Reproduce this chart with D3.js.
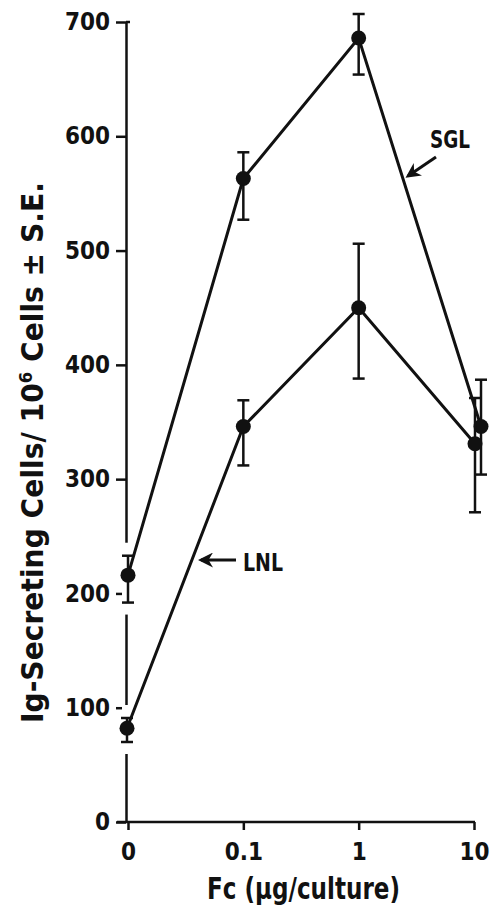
<!DOCTYPE html>
<html>
<head>
<meta charset="utf-8">
<script src="https://cdn.jsdelivr.net/npm/d3@7"></script>
<style>
  body { margin: 0; background: #fff; }
  svg text { font-family: "Liberation Sans Narrow", "DejaVu Sans Condensed", "Arial Narrow", sans-serif; font-weight: bold; fill: #111; }
</style>
</head>
<body>
<svg id="chart" width="490" height="907"></svg>
<script>
const doses = ['0', '0.1', '1', '10'];
const yTicks = [0, 100, 200, 300, 400, 500, 600, 700];

// SGL series (mean, error bar low / high)
const sglMean = [216, 563, 686, 346];
const sglLow = [192, 527, 654, 304];
const sglHigh = [233, 586, 707, 387];

// LNL series
const lnlMean = [82, 346, 450, 331];
const lnlLow = [70, 312, 388, 271];
const lnlHigh = [91, 369, 506, 371];

const svg = d3.select('#chart');

const x = d3.scalePoint().domain(doses).range([128, 474]);
const y = d3.scaleLinear().domain([0, 700]).range([822, 22]);

// the two series sit a touch apart at the last dose in the original
const dodge = { SGL: [0, 0, 0, 7], LNL: [-1, 0, 0, 1] };

const series = [
    { name: 'SGL', mean: sglMean, low: sglLow, high: sglHigh },
    { name: 'LNL', mean: lnlMean, low: lnlLow, high: lnlHigh }
].map(s => ({
    name: s.name,
    pts: doses.map((d, i) => ({
        d, i,
        cx: x(d) + dodge[s.name][i],
        v: s.mean[i], lo: s.low[i], hi: s.high[i]
    }))
}));

// axes
const yAxis = svg.append('g')
    .attr('transform', 'translate(126,0)')
    .call(d3.axisLeft(y).tickValues(yTicks).tickSize(10).tickPadding(6).tickSizeOuter(0));

const xAxis = svg.append('g')
    .attr('transform', 'translate(0,822)')
    .call(d3.axisBottom(x).tickSize(8).tickPadding(8).tickSizeOuter(0));

[yAxis, xAxis].forEach(g => {
    g.select('.domain').attr('stroke', '#111').attr('stroke-width', 2.5);
    g.selectAll('.tick line').attr('stroke', '#111').attr('stroke-width', 2.5);
    g.selectAll('.tick text').style('font-size', '24px').attr('fill', '#111');
});
xAxis.select('.domain').attr('d', 'M117,0H475');
xAxis.selectAll('.tick text').attr('dy', '0.9em');
// little hook at the top of the y axis
yAxis.append('line').attr('x1', 0).attr('x2', 4).attr('y1', y(700)).attr('y2', y(700))
    .attr('stroke', '#111').attr('stroke-width', 2.5);

// white gaps where the first points cross the y axis
series.forEach(s => {
    const p = s.pts[0];
    svg.append('line')
        .attr('x1', 126).attr('x2', 126)
        .attr('y1', y(p.hi) - 13).attr('y2', y(p.lo) + 12)
        .attr('stroke', '#fff').attr('stroke-width', 8);
});

const line = d3.line().x(d => d.cx).y(d => y(d.v));

series.forEach(s => {
    const g = svg.append('g');

    g.append('path')
        .datum(s.pts)
        .attr('d', line)
        .attr('fill', 'none')
        .attr('stroke', '#111')
        .attr('stroke-width', 3);

    const eb = g.selectAll('.eb').data(s.pts).enter().append('g');
    eb.append('line')
        .attr('x1', d => d.cx).attr('x2', d => d.cx)
        .attr('y1', d => y(d.hi)).attr('y2', d => y(d.lo))
        .attr('stroke', '#111').attr('stroke-width', 2.5);
    eb.append('line')
        .attr('x1', d => d.cx - 6).attr('x2', d => d.cx + 6)
        .attr('y1', d => y(d.hi)).attr('y2', d => y(d.hi))
        .attr('stroke', '#111').attr('stroke-width', 2.5);
    eb.append('line')
        .attr('x1', d => d.cx - 6).attr('x2', d => d.cx + 6)
        .attr('y1', d => y(d.lo)).attr('y2', d => y(d.lo))
        .attr('stroke', '#111').attr('stroke-width', 2.5);

    g.selectAll('circle').data(s.pts).enter().append('circle')
        .attr('cx', d => d.cx).attr('cy', d => y(d.v))
        .attr('r', 7.5).attr('fill', '#111');
});

// series labels with arrows
svg.append('defs').append('marker')
    .attr('id', 'head').attr('viewBox', '0 0 10 10')
    .attr('refX', 8).attr('refY', 5)
    .attr('markerWidth', 5).attr('markerHeight', 5)
    .attr('orient', 'auto')
    .append('path').attr('d', 'M0,0L10,5L0,10L3,5z').attr('fill', '#111');

svg.append('text').attr('x', 430).attr('y', 148).style('font-size', '25px')
    .attr('textLength', 40).attr('lengthAdjust', 'spacingAndGlyphs').text('SGL');
svg.append('line').attr('x1', 436).attr('y1', 157).attr('x2', 408).attr('y2', 176)
    .attr('stroke', '#111').attr('stroke-width', 3).attr('marker-end', 'url(#head)');

svg.append('text').attr('x', 243).attr('y', 571).style('font-size', '25px')
    .attr('textLength', 40).attr('lengthAdjust', 'spacingAndGlyphs').text('LNL');
svg.append('line').attr('x1', 236).attr('y1', 560).attr('x2', 201).attr('y2', 560)
    .attr('stroke', '#111').attr('stroke-width', 3).attr('marker-end', 'url(#head)');

// axis titles
svg.append('text')
    .attr('x', 207).attr('y', 899)
    .style('font-size', '30px')
    .attr('textLength', 193).attr('lengthAdjust', 'spacingAndGlyphs')
    .text('Fc (µg/culture)');

const yt = svg.append('text')
    .attr('transform', 'translate(43,723) rotate(-90)')
    .attr('textLength', 541).attr('lengthAdjust', 'spacingAndGlyphs')
    .style('font-size', '31px');
yt.append('tspan').text('Ig-Secreting Cells/ 10');
yt.append('tspan').attr('dy', -11).style('font-size', '18px').text('6');
yt.append('tspan').attr('dy', 11).text(' Cells ± S.E.');
</script>
</body>
</html>
